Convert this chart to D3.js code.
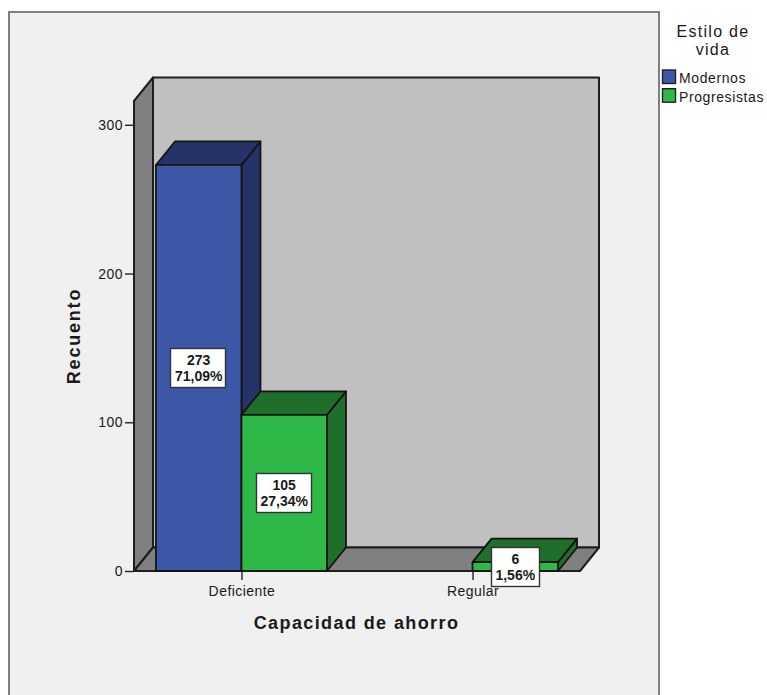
<!DOCTYPE html>
<html>
<head>
<meta charset="utf-8">
<style>
  html, body { margin: 0; padding: 0; background: #fff; overflow: hidden; }
  svg { display: block; }
  text { font-family: "Liberation Sans", Arial, sans-serif; fill: #1a1a1a; }
</style>
<script src="https://cdn.jsdelivr.net/npm/d3@7/dist/d3.min.js"></script>
</head>
<body>
<svg id="chart" width="767" height="695"></svg>
<script>
// Savings capacity by lifestyle: counts and their share of the total
const categories = ["Deficiente", "Regular"];
const seriesNames = ["Modernos", "Progresistas"];
const modernos = [273, null];
const progresistas = [105, 6];
const modernosPct = ["71,09%", null];
const progresistasPct = ["27,34%", "1,56%"];
const yTicks = [0, 100, 200, 300];
const legendTitle = ["Estilo de", "vida"];
const frontColors = ["#3e58a8", "#2eb848"];
const sideColors = ["#253367", "#1f6e2b"];

const svg = d3.select("#chart");

// Frame of the chart area; it runs off the bottom edge of the page
svg.append("rect").attr("x", 9).attr("y", 12).attr("width", 650).attr("height", 700)
  .attr("fill", "#f0f0f0").attr("stroke", "#7f7f7f").attr("stroke-width", 2);

const plotLeft = 134, plotRight = 580, plotBottom = 571, plotTop = 101;
const depthX = 19, depthY = -23.5;

const x = d3.scalePoint().domain(categories).range([plotLeft, plotRight]).padding(0.465);
const xInner = d3.scaleBand().domain(seriesNames).range([-85.5, 85.5]);
const y = d3.scaleLinear().domain([0, 316]).range([plotBottom, plotTop]);

const poly = pts => pts.map(p => p.join(",")).join(" ");
const edge = "#141414";

// Side wall, back wall and floor of the 3D box
const walls = svg.append("g").attr("stroke", "#1e1e1e").attr("stroke-width", 2).attr("stroke-linejoin", "round");
walls.append("polygon").attr("fill", "#c0c0c0").attr("points", poly([
  [plotLeft + depthX, plotTop + depthY], [plotRight + depthX, plotTop + depthY],
  [plotRight + depthX, plotBottom + depthY], [plotLeft + depthX, plotBottom + depthY]]));
walls.append("polygon").attr("fill", "#808080").attr("points", poly([
  [plotLeft, plotBottom], [plotLeft, plotTop],
  [plotLeft + depthX, plotTop + depthY], [plotLeft + depthX, plotBottom + depthY]]));
walls.append("polygon").attr("fill", "#808080").attr("points", poly([
  [plotLeft, plotBottom], [plotLeft + depthX, plotBottom + depthY],
  [plotRight + depthX, plotBottom + depthY], [plotRight, plotBottom]]));

// Axes
const axisY = d3.axisLeft(y).tickValues(yTicks).tickSize(9).tickPadding(2).tickFormat(d3.format("d"));
const axisX = d3.axisBottom(x).tickSize(9).tickPadding(6);
const gy = svg.append("g").attr("transform", `translate(${plotLeft},0)`).call(axisY);
const gx = svg.append("g").attr("transform", `translate(0,${plotBottom})`).call(axisX);
[gy, gx].forEach(g => {
  g.select(".domain").remove();
  g.selectAll("line").attr("stroke", "#222").attr("stroke-width", 1.4);
  g.selectAll("text").attr("font-size", 14).attr("letter-spacing", 0.45)
    .attr("font-family", '"Liberation Sans", Arial, sans-serif').attr("fill", "#222");
});

// Flatten the two series into one record per bar
const bars = [];
seriesNames.forEach((name, s) => {
  const vals = s === 0 ? modernos : progresistas;
  const pcts = s === 0 ? modernosPct : progresistasPct;
  categories.forEach((cat, c) => {
    if (vals[c] !== null) bars.push({ name, cat, s, value: vals[c], pct: pcts[c] });
  });
});

const barG = svg.append("g").selectAll("g").data(bars).join("g")
  .attr("stroke", edge).attr("stroke-width", 1.8).attr("stroke-linejoin", "round");
barG.each(function (d) {
  const g = d3.select(this);
  const x0 = x(d.cat) + xInner(d.name);
  const x1 = x0 + xInner.bandwidth();
  const yT = y(d.value), yB = y(0);
  g.append("polygon").attr("fill", sideColors[d.s]).attr("points", poly([
    [x1, yB], [x1, yT], [x1 + depthX, yT + depthY], [x1 + depthX, yB + depthY]]));
  g.append("polygon").attr("fill", sideColors[d.s]).attr("points", poly([
    [x0, yT], [x0 + depthX, yT + depthY], [x1 + depthX, yT + depthY], [x1, yT]]));
  g.append("polygon").attr("fill", frontColors[d.s]).attr("points", poly([
    [x0, yB], [x0, yT], [x1, yT], [x1, yB]]));
});

// Value labels, boxed and centred on each bar's front face
bars.forEach(d => {
  const cx = x(d.cat) + xInner(d.name) + xInner.bandwidth() / 2;
  const cy = (y(d.value) + y(0)) / 2;
  const g = svg.append("g");
  const box = g.append("rect").attr("fill", "#fff").attr("stroke", "#333").attr("stroke-width", 1.4);
  const t = g.append("text").attr("text-anchor", "middle").attr("font-size", 14)
    .attr("font-weight", "bold").attr("fill", "#111");
  t.append("tspan").attr("x", cx).attr("y", cy - 3).text(d.value);
  const second = t.append("tspan").attr("x", cx).attr("y", cy + 13).text(d.pct);
  const w = second.node().getComputedTextLength() + 8;
  box.attr("x", Math.floor(cx - w / 2) + 0.5).attr("y", Math.round(cy - 20) + 0.5)
    .attr("width", Math.round(w)).attr("height", 39);
});

// Axis titles
svg.append("text").attr("x", 356.5).attr("y", 629).attr("text-anchor", "middle")
  .attr("font-size", 18).attr("font-weight", "bold").attr("letter-spacing", 1.4).text("Capacidad de ahorro");
svg.append("text").attr("transform", "translate(80,336) rotate(-90)").attr("text-anchor", "middle")
  .attr("font-size", 18).attr("font-weight", "bold").attr("letter-spacing", 1.8).text("Recuento");

// Legend
svg.append("g").selectAll("text").data(legendTitle).join("text")
  .attr("x", 713).attr("y", (d, i) => 37 + i * 18).attr("text-anchor", "middle")
  .attr("font-size", 16).attr("letter-spacing", 1.3).text(d => d);
const legend = svg.append("g").selectAll("g").data(seriesNames).join("g")
  .attr("transform", (d, i) => `translate(0,${70 + i * 18.7})`);
legend.append("rect").attr("x", 662.5).attr("y", 0).attr("width", 13).attr("height", 13.5)
  .attr("fill", (d, i) => frontColors[i]).attr("stroke", "#222").attr("stroke-width", 1.4);
legend.append("text").attr("x", 679).attr("y", 13).attr("font-size", 14).attr("letter-spacing", 0.6).text(d => d);
</script>
</body>
</html>
